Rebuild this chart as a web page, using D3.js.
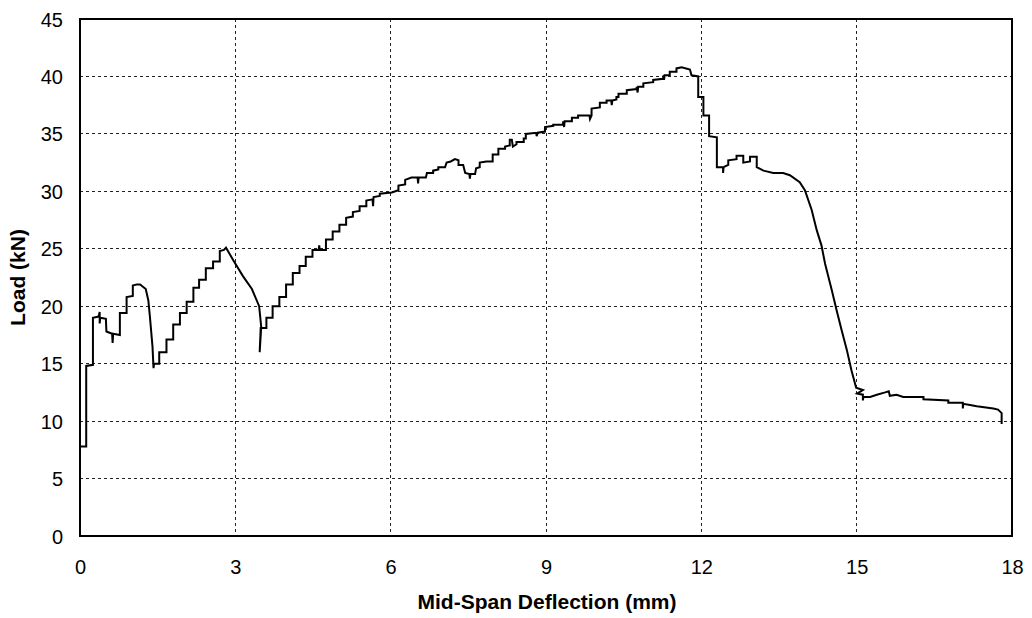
<!DOCTYPE html>
<html>
<head>
<meta charset="utf-8">
<script src="https://cdn.jsdelivr.net/npm/d3@7"></script>
<style>
  html, body { margin: 0; padding: 0; background: #fff; }
  svg { display: block; font-family: "Liberation Sans", Arial, sans-serif; }
</style>
</head>
<body>
<svg id="chart" width="1032" height="618"></svg>
<script>
// Load–deflection record of the beam test
const deflection = [
  0.00, 0.12, 0.12, 0.25, 0.25, 0.36, 0.38, 0.38, 0.39, 0.50, 0.51, 0.62, 0.63, 0.64, 0.77, 0.77,
  0.90, 0.90, 1.02, 1.02, 1.10, 1.16, 1.27, 1.32, 1.35, 1.40, 1.42, 1.43, 1.53, 1.53, 1.67, 1.67,
  1.80, 1.80, 1.93, 1.93, 2.06, 2.06, 2.19, 2.19, 2.30, 2.30, 2.43, 2.43, 2.57, 2.57, 2.70, 2.70,
  2.78, 2.82, 2.96, 3.15, 3.32, 3.46, 3.50, 3.47, 3.49, 3.60, 3.60, 3.72, 3.72, 3.85, 3.85, 3.98,
  3.98, 4.11, 4.11, 4.24, 4.24, 4.36, 4.36, 4.49, 4.49, 4.61, 4.62, 4.63, 4.75, 4.75, 4.88, 4.88,
  5.01, 5.01, 5.14, 5.14, 5.27, 5.27, 5.40, 5.40, 5.53, 5.53, 5.65, 5.66, 5.67, 5.79, 5.79, 6.02,
  6.15, 6.15, 6.28, 6.28, 6.40, 6.52, 6.53, 6.54, 6.68, 6.70, 6.82, 6.82, 6.92, 6.92, 7.05, 7.08,
  7.16, 7.24, 7.31, 7.31, 7.40, 7.44, 7.52, 7.53, 7.54, 7.63, 7.65, 7.72, 7.72, 7.85, 7.97, 7.97,
  8.08, 8.08, 8.21, 8.21, 8.30, 8.30, 8.34, 8.36, 8.43, 8.43, 8.57, 8.57, 8.61, 8.61, 8.81, 8.82,
  8.84, 8.98, 8.98, 9.14, 9.14, 9.33, 9.33, 9.35, 9.36, 9.50, 9.50, 9.62, 9.62, 9.84, 9.85, 9.88,
  9.88, 10.04, 10.04, 10.17, 10.17, 10.26, 10.27, 10.28, 10.36, 10.36, 10.40, 10.40, 10.56, 10.56, 10.75, 10.75,
  10.77, 10.78, 10.88, 10.88, 11.07, 11.07, 11.26, 11.27, 11.28, 11.29, 11.39, 11.39, 11.52, 11.52, 11.62, 11.78,
  11.81, 11.94, 11.94, 12.04, 12.04, 12.15, 12.15, 12.30, 12.30, 12.42, 12.42, 12.43, 12.52, 12.52, 12.68, 12.68,
  12.81, 12.81, 12.94, 12.94, 13.07, 13.07, 13.20, 13.39, 13.58, 13.71, 13.90, 14.00, 14.13, 14.23, 14.32, 14.39,
  14.52, 14.61, 14.71, 14.81, 14.90, 14.99, 15.12, 15.01, 15.12, 15.12, 15.13, 15.26, 15.39, 15.55, 15.62, 15.64,
  15.77, 15.90, 16.29, 16.29, 16.77, 16.77, 17.05, 17.05, 17.06, 17.19, 17.32, 17.64, 17.73, 17.80, 17.80
];
const load = [
  7.8, 7.8, 14.8, 14.9, 19.0, 19.1, 19.5, 18.5, 19.0, 18.9, 17.8, 17.6, 16.8, 17.6, 17.5, 19.4,
  19.4, 20.8, 20.9, 21.8, 21.9, 21.9, 21.5, 20.5, 19.1, 16.5, 14.6, 15.0, 15.0, 16.0, 16.0, 17.1,
  17.1, 18.4, 18.4, 19.4, 19.4, 20.4, 20.4, 21.6, 21.6, 22.3, 22.3, 23.3, 23.3, 23.9, 23.9, 24.8,
  24.9, 25.1, 24.0, 22.6, 21.5, 20.0, 18.2, 16.0, 18.1, 18.1, 19.0, 19.0, 20.0, 20.0, 20.8, 20.8,
  21.9, 21.9, 22.9, 22.9, 23.5, 23.5, 24.3, 24.3, 24.9, 24.9, 25.3, 24.9, 24.9, 25.8, 25.8, 26.5,
  26.5, 27.1, 27.1, 27.7, 27.8, 28.2, 28.3, 28.7, 28.7, 29.2, 29.3, 28.7, 29.5, 29.6, 29.8, 29.9,
  30.1, 30.5, 30.6, 31.0, 31.2, 31.2, 30.7, 31.2, 31.2, 31.6, 31.6, 31.8, 31.9, 32.1, 32.1, 32.5,
  32.6, 32.8, 32.7, 32.3, 32.3, 31.6, 31.5, 31.1, 31.5, 31.5, 32.0, 32.1, 32.5, 32.6, 32.6, 33.2,
  33.2, 33.7, 33.7, 33.9, 34.0, 34.5, 34.5, 33.9, 34.1, 34.3, 34.3, 34.6, 34.6, 35.0, 35.1, 34.8,
  35.1, 35.2, 35.6, 35.7, 35.8, 35.8, 36.1, 35.6, 36.1, 36.1, 36.4, 36.4, 36.6, 36.6, 36.3, 36.6,
  37.2, 37.3, 37.7, 37.7, 37.9, 37.9, 37.5, 37.9, 38.0, 38.2, 38.2, 38.5, 38.5, 38.8, 38.9, 39.1,
  38.6, 39.1, 39.1, 39.4, 39.5, 39.7, 39.8, 40.1, 39.7, 40.1, 40.1, 40.4, 40.4, 40.7, 40.8, 40.6,
  40.1, 40.0, 38.2, 38.2, 36.6, 36.6, 34.8, 34.7, 32.1, 32.1, 31.6, 32.1, 32.3, 32.7, 32.8, 33.1,
  33.1, 32.5, 32.6, 33.0, 33.0, 32.1, 31.8, 31.6, 31.6, 31.4, 30.8, 30.1, 28.4, 26.6, 25.3, 23.7,
  21.4, 19.7, 17.9, 16.2, 14.4, 12.9, 12.7, 12.4, 12.3, 11.8, 12.1, 12.1, 12.3, 12.5, 12.6, 12.2,
  12.3, 12.1, 12.1, 11.9, 11.8, 11.6, 11.6, 11.1, 11.5, 11.4, 11.3, 11.1, 11.0, 10.7, 9.75
];

const xTicks = [0, 3, 6, 9, 12, 15, 18];
const yTicks = [0, 5, 10, 15, 20, 25, 30, 35, 40, 45];
const xTitle = "Mid-Span Deflection (mm)";
const yTitle = "Load (kN)";

const margin = { left: 80, top: 19, right: 20, bottom: 82 };
const W = 1032, H = 618;
const w = W - margin.left - margin.right;   // 932
const h = H - margin.top - margin.bottom;   // 517

const svg = d3.select("#chart");
const g = svg.append("g").attr("transform", `translate(${margin.left},${margin.top})`);

const x = d3.scaleLinear().domain([0, 18]).range([0, w]);
const y = d3.scaleLinear().domain([0, 45]).range([h, 0]);

// dashed grid
const grid = g.append("g").attr("class", "grid");
grid.selectAll("line.v").data(xTicks).join("line")
  .attr("class", "v")
  .attr("x1", d => x(d)).attr("x2", d => x(d))
  .attr("y1", 0).attr("y2", h);
grid.selectAll("line.h").data(yTicks).join("line")
  .attr("class", "h")
  .attr("x1", 0).attr("x2", w)
  .attr("y1", d => y(d)).attr("y2", d => y(d));
grid.selectAll("line")
  .attr("stroke", "#222")
  .attr("stroke-width", 1)
  .attr("stroke-dasharray", "3,3")
  .attr("shape-rendering", "crispEdges");

// axes (labels only)
const xAxis = g.append("g")
  .attr("transform", `translate(0,${h})`)
  .call(d3.axisBottom(x).tickValues(xTicks).tickSize(0).tickPadding(0).tickFormat(d3.format("d")));
xAxis.select(".domain").remove();
xAxis.selectAll("text")
  .attr("y", 38).attr("dy", null)
  .attr("font-size", 20).attr("fill", "#000")
  .attr("font-family", "'Liberation Sans', Arial, sans-serif");

const yAxis = g.append("g")
  .call(d3.axisLeft(y).tickValues(yTicks).tickSize(0).tickPadding(0).tickFormat(d3.format("d")));
yAxis.select(".domain").remove();
yAxis.selectAll("text")
  .attr("x", -17).attr("dy", "0.35em")
  .attr("font-size", 20).attr("fill", "#000")
  .attr("font-family", "'Liberation Sans', Arial, sans-serif");

// curve
const pts = deflection.map((d, i) => [d, load[i]]);
const line = d3.line().x(d => x(d[0])).y(d => y(d[1]));
g.append("path")
  .datum(pts)
  .attr("d", line)
  .attr("fill", "none")
  .attr("stroke", "#000")
  .attr("stroke-width", 2)
  .attr("stroke-linejoin", "miter");

// plot frame
g.append("rect")
  .attr("x", 0).attr("y", 0).attr("width", w).attr("height", h)
  .attr("fill", "none").attr("stroke", "#000").attr("stroke-width", 2);

// axis titles
svg.append("text")
  .attr("x", margin.left + w / 2 + 1).attr("y", 609)
  .attr("text-anchor", "middle")
  .attr("font-size", 21).attr("font-weight", "bold")
  .text(xTitle);

svg.append("text")
  .attr("transform", `translate(25,${margin.top + h / 2}) rotate(-90)`)
  .attr("text-anchor", "middle")
  .attr("font-size", 21).attr("font-weight", "bold")
  .text(yTitle);
</script>
</body>
</html>
